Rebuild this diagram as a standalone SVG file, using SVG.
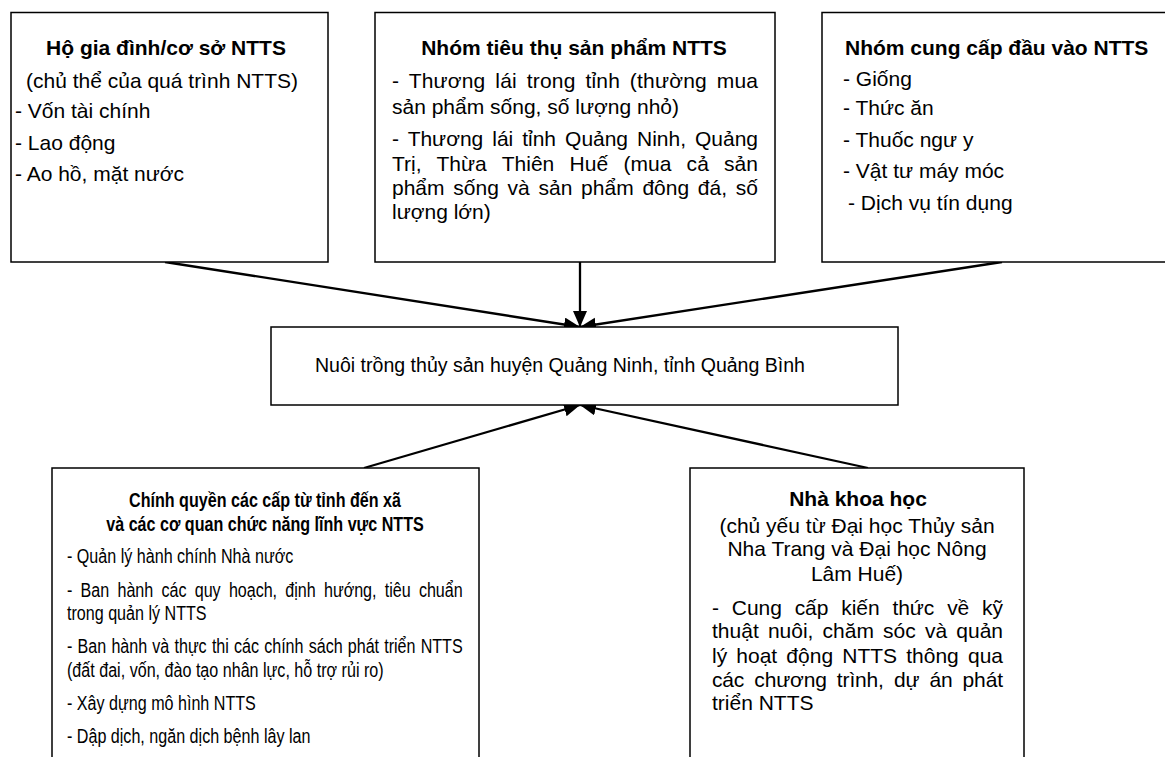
<svg xmlns="http://www.w3.org/2000/svg" width="1165" height="757" viewBox="0 0 1165 757">
<style>
  .box { fill: #fff; stroke: #000; stroke-width: 1.5; }
  .conn { stroke: #000; stroke-width: 2.3; fill: none; marker-end: url(#arr); }
  text { font-family: "Liberation Sans", Arial, sans-serif; fill: #000; font-size: 21px; }
  .b { font-weight: bold; }
  .m { text-anchor: middle; }
  .n { font-size: 19.5px; }
</style>
<defs>
  <marker id="arr" markerUnits="userSpaceOnUse" markerWidth="17" markerHeight="15" refX="16" refY="7" orient="auto">
    <path d="M0,0 L16,7 L0,14 z" fill="#000"/>
  </marker>
</defs>
<rect width="1165" height="757" fill="#fff"/>

<g id="connectors">
  <line class="conn" x1="165" y1="262" x2="580" y2="327"/>
  <line class="conn" x1="580" y1="262" x2="580" y2="327"/>
  <line class="conn" x1="1002" y1="262" x2="580" y2="327"/>
  <line class="conn" x1="364" y1="468" x2="580" y2="405"/>
  <line class="conn" x1="868" y1="468" x2="580" y2="405"/>
</g>

<g id="node-hogiadinh">
  <rect class="box" x="11" y="12.5" width="317" height="249.5"/>
  <text class="b m" x="166" y="54.5">Hộ gia đình/cơ sở NTTS</text>
  <text class="m" x="162" y="88">(chủ thể của quá trình NTTS)</text>
  <text x="15" y="118">- Vốn tài chính</text>
  <text x="15" y="150">- Lao động</text>
  <text x="15" y="181">- Ao hồ, mặt nước</text>
</g>

<g id="node-tieuthu">
  <rect class="box" x="375" y="12.5" width="400" height="249.5"/>
  <text class="b m" x="574" y="55">Nhóm tiêu thụ sản phẩm NTTS</text>
  <text x="392" y="88" word-spacing="3.8" textLength="366" lengthAdjust="spacing">- Thương lái trong tỉnh (thường mua</text>
  <text x="392" y="114">sản phẩm sống, số lượng nhỏ)</text>
  <text x="392" y="146" word-spacing="3.3" textLength="366" lengthAdjust="spacing">- Thương lái tỉnh Quảng Ninh, Quảng</text>
  <text x="392" y="171" word-spacing="9.4" textLength="366" lengthAdjust="spacing">Trị, Thừa Thiên Huế (mua cả sản</text>
  <text x="392" y="195" word-spacing="2.9" textLength="366" lengthAdjust="spacing">phẩm sống và sản phẩm đông đá, số</text>
  <text x="392" y="219">lượng lớn)</text>
</g>

<g id="node-cungcap">
  <rect class="box" x="822" y="12.5" width="360" height="249.5"/>
  <text class="b" x="845" y="54.5">Nhóm cung cấp đầu vào NTTS</text>
  <text x="843" y="86">- Giống</text>
  <text x="843" y="115">- Thức ăn</text>
  <text x="843" y="147">- Thuốc ngư y</text>
  <text x="843" y="178">- Vật tư máy móc</text>
  <text x="848" y="210">- Dịch vụ tín dụng</text>
</g>

<g id="node-center">
  <rect class="box" x="271" y="327" width="627" height="78"/>
  <text x="315" y="372" style="font-size:20px" textLength="490" lengthAdjust="spacingAndGlyphs">Nuôi trồng thủy sản huyện Quảng Ninh, tỉnh Quảng Bình</text>
</g>

<g id="node-chinhquyen">
  <rect class="box" x="52" y="468" width="427" height="310"/>
  <text class="b m n" transform="translate(265,507) scale(0.826,1)">Chính quyền các cấp từ tỉnh đến xã</text>
  <text class="b m n" transform="translate(265,531) scale(0.826,1)">và các cơ quan chức năng lĩnh vực NTTS</text>
  <text class="n" transform="translate(67,563) scale(0.826,1)">- Quản lý hành chính Nhà nước</text>
  <text class="n" transform="translate(67,597) scale(0.826,1)" word-spacing="4.7" textLength="479" lengthAdjust="spacing">- Ban hành các quy hoạch, định hướng, tiêu chuẩn</text>
  <text class="n" transform="translate(67,620) scale(0.826,1)">trong quản lý NTTS</text>
  <text class="n" transform="translate(67,653) scale(0.826,1)" word-spacing="1" textLength="479" lengthAdjust="spacing">- Ban hành và thực thi các chính sách phát triển NTTS</text>
  <text class="n" transform="translate(67,677) scale(0.826,1)">(đất đai, vốn, đào tạo nhân lực, hỗ trợ rủi ro)</text>
  <text class="n" transform="translate(67,710) scale(0.826,1)">- Xây dựng mô hình NTTS</text>
  <text class="n" transform="translate(67,743) scale(0.826,1)">- Dập dịch, ngăn dịch bệnh lây lan</text>
</g>

<g id="node-nhakhoahoc">
  <rect class="box" x="690" y="468" width="334" height="310"/>
  <text class="b m" x="858" y="506">Nhà khoa học</text>
  <text class="m" x="857" y="533">(chủ yếu từ Đại học Thủy sản</text>
  <text class="m" x="857" y="556">Nha Trang và Đại học Nông</text>
  <text class="m" x="857" y="581">Lâm Huế)</text>
  <text x="712" y="615" word-spacing="7" textLength="291" lengthAdjust="spacing">- Cung cấp kiến thức về kỹ</text>
  <text x="712" y="638" word-spacing="3.3" textLength="291" lengthAdjust="spacing">thuật nuôi, chăm sóc và quản</text>
  <text x="712" y="663" word-spacing="3.3" textLength="291" lengthAdjust="spacing">lý hoạt động NTTS thông qua</text>
  <text x="712" y="687" word-spacing="4.4" textLength="291" lengthAdjust="spacing">các chương trình, dự án phát</text>
  <text x="712" y="710">triển NTTS</text>
</g>
</svg>
